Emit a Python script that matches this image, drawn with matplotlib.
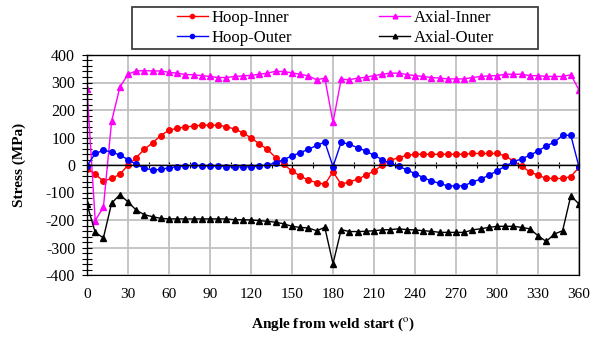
import numpy as np
import matplotlib
matplotlib.use("Agg")
import matplotlib.pyplot as plt
from matplotlib.ticker import MultipleLocator
from matplotlib.patches import Rectangle

plt.rcParams['font.family'] = ['Liberation Serif', 'DejaVu Serif']
plt.rcParams['mathtext.fontset'] = 'stix'
plt.rcParams['axes.unicode_minus'] = False

# angle from weld start, one reading every 6 degrees
angle = np.arange(0, 361, 6)
angle_ticks = [0, 30, 60, 90, 120, 150, 180, 210, 240, 270, 300, 330, 360]

hoop_inner = [-13, -34, -58, -49, -34, -1, 27, 57, 81, 107, 127, 133, 139, 141, 145, 145,
              145, 139, 131, 117, 99, 77, 57, 27, 2, -22, -40, -55, -64, -70, -25,
              -70, -61, -52, -37, -22, -1, 17, 27, 35, 39, 39, 39, 39, 39, 39,
              39, 42, 42, 42, 42, 33, 14, -4, -25, -37, -49, -49, -49, -42, -9]

axial_inner = [276, -202, -154, 159, 282, 330, 342, 343, 342, 342, 337, 334, 329, 328, 325, 322,
               318, 318, 322, 324, 326, 330, 334, 341, 340, 335, 330, 324, 310, 316, 155,
               312, 310, 316, 319, 325, 330, 334, 334, 329, 325, 322, 318, 316, 313, 313,
               313, 318, 322, 324, 325, 330, 330, 330, 325, 325, 322, 322, 322, 328, 273]

hoop_outer = [-4, 42, 53, 48, 36, 20, 2, -12, -18, -16, -10, -6, -4, -1, -4, -4,
              -4, -6, -7, -7, -7, -4, 0, 8, 20, 33, 45, 57, 71, 84, -6,
              83, 75, 63, 51, 35, 20, 6, -4, -18, -31, -46, -58, -67, -76, -76,
              -76, -61, -52, -37, -22, -4, 11, 23, 35, 51, 69, 83, 108, 108, -7]

axial_outer = [-142, -245, -265, -139, -108, -134, -164, -181, -188, -194, -196, -196, -196, -196, -196, -196,
               -196, -196, -199, -199, -200, -202, -205, -208, -214, -223, -227, -229, -239, -227, -359,
               -235, -242, -242, -241, -239, -236, -235, -232, -235, -236, -239, -241, -245, -245, -245,
               -245, -236, -232, -227, -223, -223, -223, -227, -232, -257, -278, -251, -239, -112, -142]

fig = plt.figure(figsize=(5.98, 3.40), dpi=100)
ax = fig.add_axes([87 / 598, 1 - 275 / 340, 492 / 598, 220 / 340])

l1, = ax.plot(angle, hoop_inner, color='#ff0000', marker='o', ms=4, lw=1, label='Hoop-Inner')
l2, = ax.plot(angle, axial_inner, color='#ff00ff', marker='^', ms=4.5, lw=1, label='Axial-Inner')
l3, = ax.plot(angle, hoop_outer, color='#0000ff', marker='o', ms=4, lw=1, label='Hoop-Outer')
l4, = ax.plot(angle, axial_outer, color='#000000', marker='^', ms=4.5, lw=1, label='Axial-Outer')

ax.set_xlim(0, 360)
ax.set_ylim(-400, 400)
ax.set_xticks(angle_ticks)
ax.xaxis.set_minor_locator(MultipleLocator(15))
ax.yaxis.set_major_locator(MultipleLocator(100))
ax.yaxis.set_minor_locator(MultipleLocator(20))
ax.grid(True, which='major', color='#c0c0c0', lw=1.3)
ax.set_axisbelow(True)

# x axis line sits at zero, labels go below the plot area
ax.spines['bottom'].set_position(('data', 0))
ax.tick_params(axis='x', which='both', direction='inout', length=5, width=0.8, labelbottom=False)
ax.tick_params(axis='y', which='both', direction='inout', length=7, width=0.8,
               labelsize=11.5, pad=5)
for s in ax.spines.values():
    s.set_linewidth(1.0)

sec = ax.secondary_xaxis(0)
sec.set_xticks(angle_ticks)
sec.tick_params(length=0, labelsize=11, pad=9)
sec.set_xlabel(r'Angle from weld start ($^{\rm o}$)', fontsize=11, fontweight='bold', labelpad=11)
ax.set_ylabel('Stress (MPa)', fontsize=11, fontweight='bold', labelpad=14)

# legend box is wider than its entries, so draw the frame separately
fig.patches.append(Rectangle((132 / 598, 1 - 49 / 340), 406 / 598, 42 / 340,
                             transform=fig.transFigure, fill=False,
                             edgecolor='#404040', lw=1.3))
leg = fig.legend([l1, l3, l2, l4], ['Hoop-Inner', 'Hoop-Outer', 'Axial-Inner', 'Axial-Outer'],
                 ncol=2, loc='upper left', bbox_to_anchor=(177 / 598, 1 - 10 / 340),
                 fontsize=12, frameon=False, handlelength=1.85, handletextpad=0.25,
                 columnspacing=5.2, borderaxespad=0, labelspacing=0.25, borderpad=0,
                 markerscale=0.75)

fig.savefig('out.png', dpi=100)
